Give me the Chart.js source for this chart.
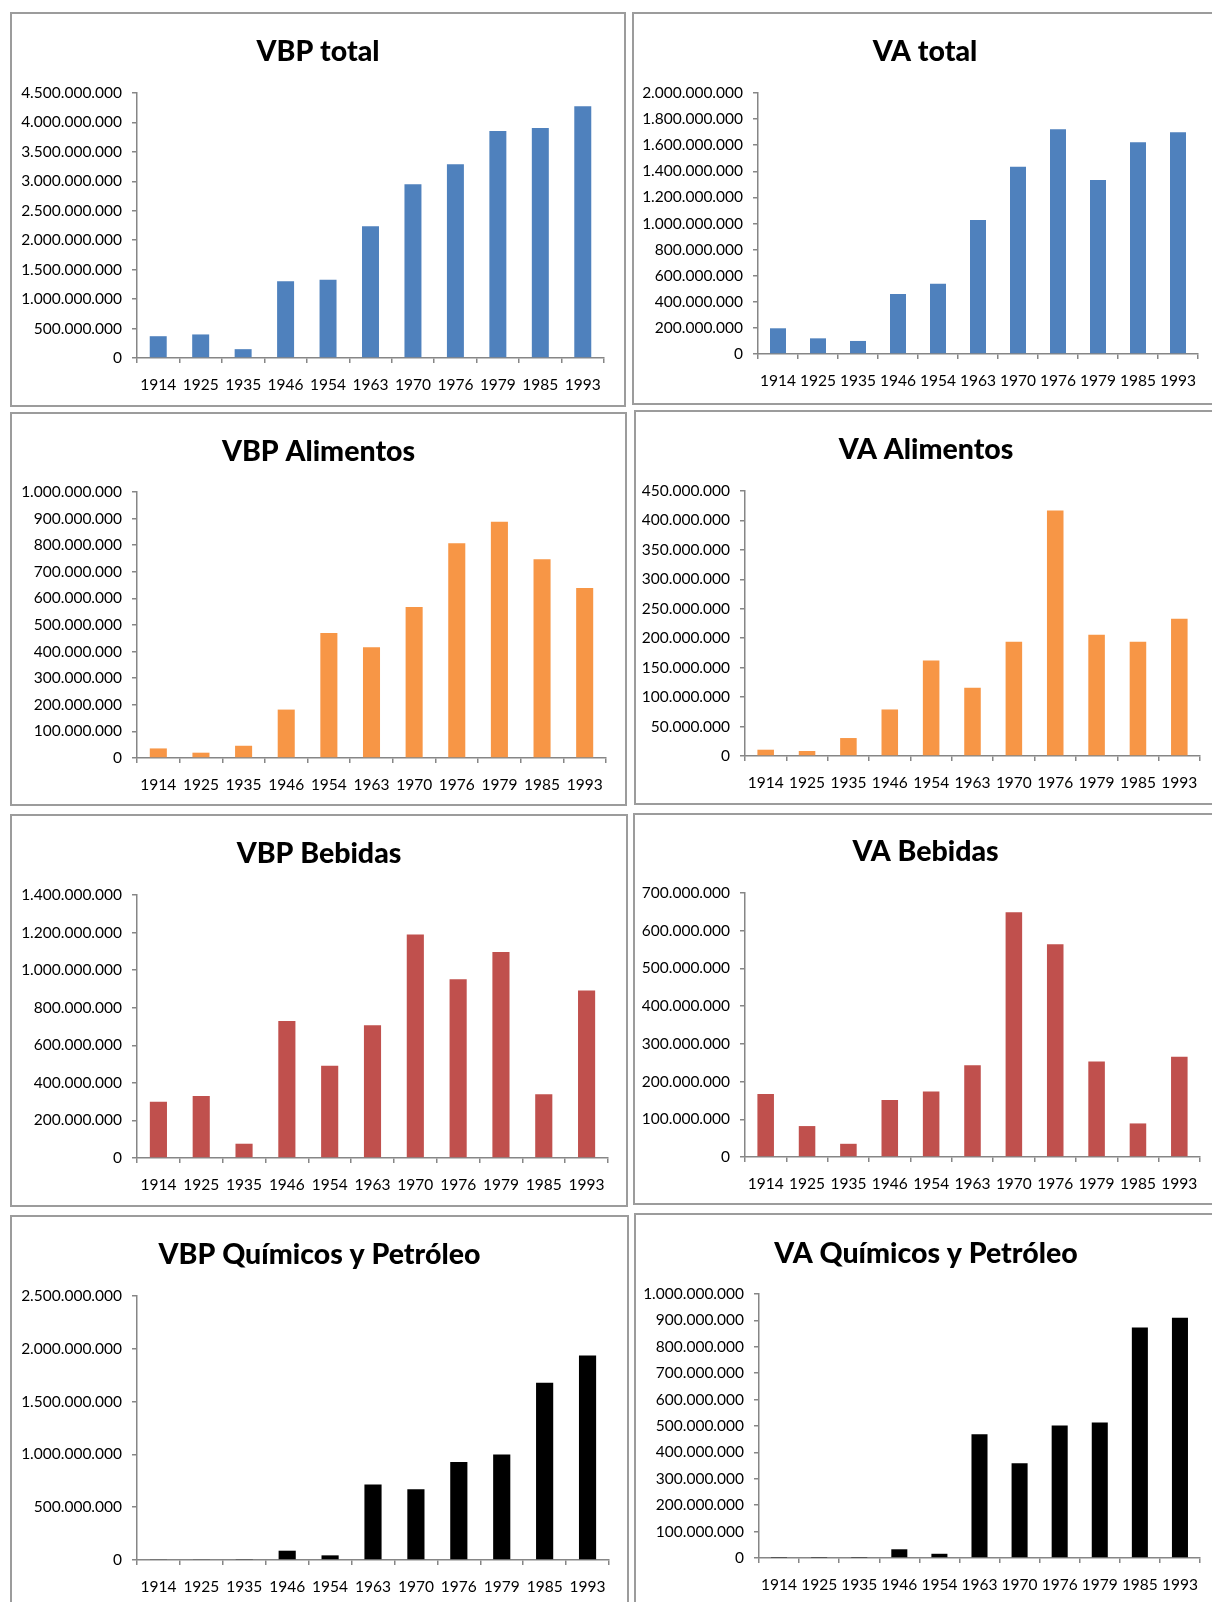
<!DOCTYPE html>
<html>
<head>
<meta charset="utf-8">
<script src="https://cdn.jsdelivr.net/npm/chart.js@4.4.0/dist/chart.umd.min.js"></script>
<style>
html, body { margin:0; padding:0; background:#fff; overflow:hidden; width:1212px; height:1602px; }
.panel { position:absolute; box-sizing:border-box; border:2px solid #9c9c9c; background:#fff; }
.panel canvas { position:absolute; left:0; top:0; }
</style>
</head>
<body>
<script>
// años del censo
const years = ["1914","1925","1935","1946","1954","1963","1970","1976","1979","1985","1993"];

// valores
const vbpTotal      = [370e6, 400e6, 150e6, 1305e6, 1328e6, 2236e6, 2951e6, 3292e6, 3854e6, 3905e6, 4274e6];
const vaTotal       = [197e6, 120e6, 100e6, 460e6, 539e6, 1027e6, 1435e6, 1722e6, 1333e6, 1622e6, 1699e6];
const vbpAlimentos  = [36e6, 20e6, 46e6, 182e6, 470e6, 416e6, 568e6, 807e6, 888e6, 747e6, 639e6];
const vaAlimentos   = [10.7e6, 8.5e6, 30.5e6, 79e6, 162e6, 116e6, 194e6, 417e6, 206e6, 194e6, 233e6];
const vbpBebidas    = [300e6, 330e6, 76e6, 729e6, 491e6, 706e6, 1190e6, 951e6, 1097e6, 339e6, 891e6];
const vaBebidas     = [167e6, 82e6, 35e6, 151e6, 174e6, 243e6, 649e6, 564e6, 253e6, 89e6, 266e6];
const vbpQuimicos   = [6e6, 6e6, 5e6, 88e6, 44e6, 715e6, 671e6, 929e6, 998e6, 1678e6, 1936e6];
const vaQuimicos    = [1.5e6, 1.5e6, 1.5e6, 33e6, 16e6, 469e6, 359e6, 502e6, 513e6, 873e6, 910e6];

// maximo y paso del eje Y de cada grafico
const yMax  = [4.5e9, 2e9, 1e9, 4.5e8, 1.4e9, 7e8, 2.5e9, 1e9];
const yStep = [5e8, 2e8, 1e8, 5e7, 2e8, 1e8, 5e8, 1e8];

const AXIS = '#868686';
const BW = 2;
const TICK_FONT = { family: 'Lato', size: 15.5 };

const fmt = v => Math.round(v).toString().replace(/\B(?=(\d{3})+(?!\d))/g, '.');

// box: x, y, w, h  |  axis: left, top, base, right (relativo al panel)
const panels = [
  { title: 'VBP total', data: vbpTotal, color: '#4F81BD', box: [10, 12, 616, 395], axis: [127, 81, 346, 594], titleY: 40 },
  { title: 'VA total', data: vaTotal, color: '#4F81BD', box: [632, 12, 586, 393], axis: [126, 81, 342, 566], titleY: 40 },
  { title: 'VBP Alimentos', data: vbpAlimentos, color: '#F79646', box: [10, 412, 617, 394], axis: [127, 80, 346, 596], titleY: 40 },
  { title: 'VA Alimentos', data: vaAlimentos, color: '#F79646', box: [634, 410, 584, 395], axis: [111, 81, 346, 566], titleY: 40 },
  { title: 'VBP Bebidas', data: vbpBebidas, color: '#C0504D', box: [10, 814, 618, 393], axis: [127, 81, 344, 598], titleY: 40 },
  { title: 'VA Bebidas', data: vaBebidas, color: '#C0504D', box: [633, 813, 585, 392], axis: [112, 80, 344, 567], titleY: 39 },
  { title: 'VBP Químicos y Petróleo', data: vbpQuimicos, color: '#000000', box: [10, 1215, 619, 400], axis: [127, 81, 345, 599], titleY: 40 },
  { title: 'VA Químicos y Petróleo', data: vaQuimicos, color: '#000000', box: [634, 1213, 584, 400], axis: [125, 81, 345, 566], titleY: 41 }
];

panels.forEach((p, i) => {
  const [x, y, w, h] = p.box;
  const [axL, top, base, right] = p.axis;
  const div = document.createElement('div');
  div.className = 'panel';
  div.style.cssText = `left:${x}px;top:${y}px;width:${w}px;height:${h}px`;
  const cv = document.createElement('canvas');
  const cw = w - 2 * BW, ch = h - 2 * BW;
  cv.width = cw; cv.height = ch;
  div.appendChild(cv);
  document.body.appendChild(div);
  const side = cw - (right - BW);

  new Chart(cv, {
    type: 'bar',
    data: {
      labels: years,
      datasets: [{ data: p.data, backgroundColor: p.color, barPercentage: 0.4, categoryPercentage: 1 }]
    },
    options: {
      responsive: false,
      animation: false,
      layout: { padding: 0 },
      plugins: {
        legend: { display: false },
        tooltip: { enabled: false },
        title: {
          display: true, text: p.title, color: '#000',
          font: { family: 'Lato', size: 28.5, weight: 900, lineHeight: 1.2 },
          padding: { top: p.titleY - BW - 17.1, bottom: top - p.titleY - 17.1 }
        }
      },
      scales: {
        x: {
          grid: { drawOnChartArea: false, drawTicks: true, tickLength: 5, color: AXIS, lineWidth: 1.5, offset: true },
          border: { color: AXIS, width: 1.5 },
          ticks: { color: '#000', font: TICK_FONT, padding: 13, maxRotation: 0, autoSkip: false },
          afterFit: s => { s.height = ch - (base - BW); }
        },
        y: {
          min: 0, max: yMax[i],
          grid: { drawOnChartArea: false, drawTicks: true, tickLength: 5, color: AXIS, lineWidth: 1.5 },
          border: { color: AXIS, width: 1.5 },
          ticks: { stepSize: yStep[i], color: '#000', font: TICK_FONT, padding: 10, callback: v => fmt(v) },
          afterFit: s => { s.width = axL - BW; }
        },
        // eje vacio a la derecha: solo reserva el margen
        yRight: {
          position: 'right', display: true,
          grid: { display: false, drawTicks: false },
          border: { display: false },
          ticks: { display: false },
          afterFit: s => { s.width = side; }
        }
      }
    }
  });
});
</script>
</body>
</html>
